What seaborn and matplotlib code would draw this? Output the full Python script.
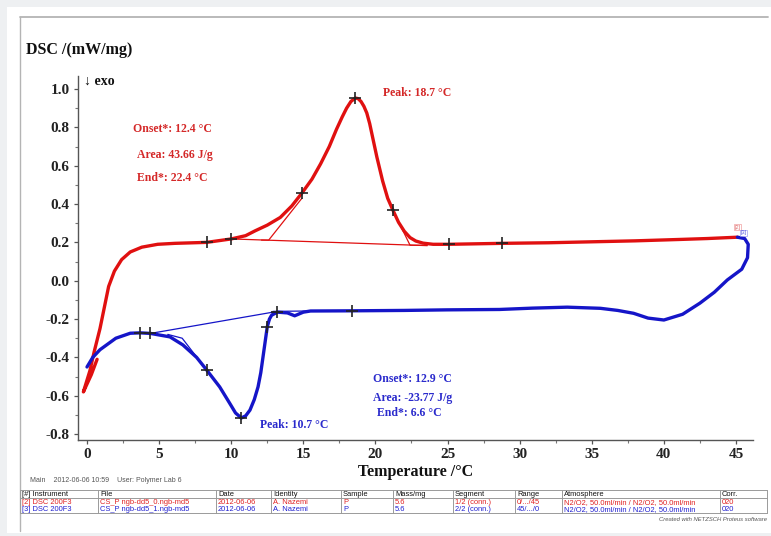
import numpy as np
import pandas as pd
import matplotlib
matplotlib.use("Agg")
import matplotlib.pyplot as plt
import seaborn as sns
from matplotlib.patches import Rectangle
from matplotlib.lines import Line2D
from matplotlib.ticker import MultipleLocator

# ---------------- data ----------------
heat_T = [0.7, 0.3, -0.25, 0.2, 0.5, 0.9, 1.2, 1.5, 1.9, 2.4, 3.0, 3.8, 4.9, 6.1, 8.3, 10.0,
          11.0, 11.65, 12.5, 13.4, 14.2, 14.9, 15.6, 16.2, 16.8, 17.3, 17.7, 18.0, 18.3, 18.6,
          18.8, 19.0, 19.2, 19.4, 19.6, 19.8, 20.1, 20.5, 20.85, 21.2, 21.6, 22.0, 22.4, 22.8,
          23.3, 24.0, 25.1, 28.8, 32.0, 35.0, 38.0, 41.0, 43.0, 45.1]
heat_dsc = [-0.41, -0.49, -0.58, -0.47, -0.37, -0.25, -0.14, -0.03, 0.05, 0.11, 0.15, 0.175,
            0.19, 0.195, 0.20, 0.218, 0.235, 0.26, 0.29, 0.33, 0.39, 0.457, 0.53, 0.61, 0.70,
            0.79, 0.855, 0.90, 0.935, 0.953, 0.95, 0.935, 0.91, 0.875, 0.82, 0.75, 0.645, 0.52,
            0.43, 0.37, 0.305, 0.258, 0.225, 0.207, 0.196, 0.19, 0.19, 0.195, 0.198, 0.203,
            0.208, 0.215, 0.22, 0.227]

cool_T = [45.1, 45.6, 45.85, 45.8, 45.4, 44.4, 43.5, 42.5, 41.3, 40.0, 38.9, 37.9, 36.8, 35.6,
          33.3, 30.9, 28.6, 25.0, 22.0, 18.4, 15.5, 15.0, 14.4, 13.9, 13.2, 12.8, 12.65, 12.5,
          12.35, 12.2, 12.05, 11.86, 11.6, 11.3, 11.0, 10.7, 10.3, 9.9, 9.2, 8.3, 7.6, 6.65,
          5.75, 4.4, 3.7, 3.0, 2.0, 0.9, 0.4, 0.0]
cool_dsc = [0.227, 0.22, 0.19, 0.12, 0.06, 0.004, -0.06, -0.117, -0.175, -0.205, -0.195, -0.17,
            -0.155, -0.144, -0.138, -0.143, -0.15, -0.152, -0.155, -0.157, -0.158, -0.164, -0.183,
            -0.168, -0.164, -0.18, -0.20, -0.24, -0.32, -0.40, -0.48, -0.554, -0.62, -0.675,
            -0.705, -0.716, -0.69, -0.64, -0.554, -0.466, -0.40, -0.335, -0.293, -0.275, -0.272,
            -0.274, -0.30, -0.36, -0.40, -0.45]

heat_marks_T = [8.3, 10.0, 14.9, 18.6, 21.2, 25.1, 28.8]
heat_marks_dsc = [0.20, 0.218, 0.457, 0.953, 0.37, 0.19, 0.195]
cool_marks_T = [3.7, 4.4, 8.3, 10.7, 12.5, 13.2, 18.4]
cool_marks_dsc = [-0.272, -0.275, -0.466, -0.716, -0.24, -0.164, -0.157]

# construction (baseline / tangent) lines
heat_base_T = [10.0, 23.6]
heat_base_dsc = [0.218, 0.183]
heat_tan1_T = [12.1, 12.6, 14.9]
heat_tan1_dsc = [0.212, 0.212, 0.43]
heat_tan2_T = [21.2, 22.4, 23.3]
heat_tan2_dsc = [0.37, 0.185, 0.185]
cool_base_T = [4.4, 13.2]
cool_base_dsc = [-0.275, -0.16]
cool_tan1_T = [5.6, 6.6, 8.3]
cool_tan1_dsc = [-0.28, -0.30, -0.466]
cool_tan2_T = [12.5, 12.9, 15.3]
cool_tan2_dsc = [-0.24, -0.160, -0.158]

x_ticks = [0, 5, 10, 15, 20, 25, 30, 35, 40, 45]
x_tick_labels = [str(v) for v in x_ticks]
y_ticks = [-0.8, -0.6, -0.4, -0.2, 0.0, 0.2, 0.4, 0.6, 0.8, 1.0]
y_tick_labels = ["-0.8", "-0.6", "-0.4", "-0.2", "0.0", "0.2", "0.4", "0.6", "0.8", "1.0"]

red_notes = ["Onset*: 12.4 °C", "Area: 43.66 J/g", "End*: 22.4 °C"]
blue_notes = ["Onset*: 12.9 °C", "Area: -23.77 J/g", "End*: 6.6 °C"]
red_peak = "Peak: 18.7 °C"
blue_peak = "Peak: 10.7 °C"

table_header = ["[#] Instrument", "File", "Date", "Identity", "Sample", "Mass/mg",
                "Segment", "Range", "Atmosphere", "Corr."]
table_row2 = ["[2] DSC 200F3", "CS_P ngb-dd5_0.ngb-md5", "2012-06-06", "A. Nazemi", "P", "5.6",
              "1/2 (conn.)", "0/.../45", "N2/O2, 50.0ml/min / N2/O2, 50.0ml/min", "020"]
table_row3 = ["[3] DSC 200F3", "CS_P ngb-dd5_1.ngb-md5", "2012-06-06", "A. Nazemi", "P", "5.6",
              "2/2 (conn.)", "45/.../0", "N2/O2, 50.0ml/min / N2/O2, 50.0ml/min", "020"]

# ---------------- style ----------------
sns.set_theme(style="white")
plt.rcParams['font.family'] = ['Liberation Serif', 'DejaVu Serif']
plt.rcParams['axes.unicode_minus'] = False

RED = "#e01010"
BLUE = "#1515c8"
RED_T = "#d42828"
BLUE_T = "#2a2acc"

W, H = 771, 536
fig = plt.figure(figsize=(W / 100, H / 100), dpi=100)
fig.patch.set_facecolor('#eef0f2')
fig.add_artist(Rectangle((7 / W, 3 / H), (W - 7) / W, (529 - 3) / H,
                         transform=fig.transFigure, facecolor='white', edgecolor='none', zorder=0))
fig.add_artist(Line2D([20 / W, 768 / W], [1 - 17 / H, 1 - 17 / H], transform=fig.transFigure,
                      color='#b4b4b4', lw=1.3))
fig.add_artist(Line2D([20 / W, 20 / W], [1 - 17 / H, 1 - 531 / H], transform=fig.transFigure,
                      color='#b4b4b4', lw=1.0))

ax = fig.add_axes([78 / W, 1 - 440 / H, (753 - 78) / W, (440 - 76) / H])
ax.set_facecolor('none')

heat_df = pd.DataFrame({"T": heat_T, "DSC": heat_dsc})
cool_df = pd.DataFrame({"T": cool_T, "DSC": cool_dsc})

# construction lines (thin)
for xs, ys, c in [(heat_base_T, heat_base_dsc, RED), (heat_tan1_T, heat_tan1_dsc, RED),
                  (heat_tan2_T, heat_tan2_dsc, RED), (cool_base_T, cool_base_dsc, BLUE),
                  (cool_tan1_T, cool_tan1_dsc, BLUE), (cool_tan2_T, cool_tan2_dsc, BLUE)]:
    ax.plot(xs, ys, color=c, lw=0.9, zorder=2)

sns.lineplot(data=heat_df, x="T", y="DSC", sort=False, estimator=None, color=RED, lw=2.4,
             ax=ax, zorder=3, solid_joinstyle='round', solid_capstyle='round')
sns.lineplot(data=cool_df, x="T", y="DSC", sort=False, estimator=None, color=BLUE, lw=2.4,
             ax=ax, zorder=3, solid_joinstyle='round', solid_capstyle='round')

ax.plot(heat_marks_T, heat_marks_dsc, ls='none', marker='+', ms=8, mew=1.2, color='#222222', zorder=4)
ax.plot(cool_marks_T, cool_marks_dsc, ls='none', marker='+', ms=8, mew=1.2, color='#222222', zorder=4)

ax.set_xlim(-0.624, 46.18)
ax.set_ylim(-0.831, 1.068)
for s in ['top', 'right']:
    ax.spines[s].set_visible(False)
for s in ['left', 'bottom']:
    ax.spines[s].set_color('#555555')
    ax.spines[s].set_linewidth(1.0)

ax.set_xticks(x_ticks, labels=x_tick_labels, fontweight='bold', fontsize=11)
ax.set_yticks(y_ticks, labels=y_tick_labels, fontweight='bold', fontsize=11)
ax.xaxis.set_minor_locator(MultipleLocator(2.5))
ax.yaxis.set_minor_locator(MultipleLocator(0.1))
ax.tick_params(which='major', direction='out', length=3, width=0.9, color='#555555',
               bottom=True, left=True, pad=3, labelcolor='#222222')
ax.tick_params(which='minor', direction='out', length=2, width=0.8, color='#777777',
               bottom=True, left=True)

ax.set_xlabel("Temperature /°C", fontsize=11.5, fontweight='bold', color='#111111', labelpad=2)
ax.set_ylabel("")

fig.text(26 / W, 1 - 50 / H, "DSC /(mW/mg)", fontsize=11.5, fontweight='bold', color='#111111',
         ha='left', va='center')
fig.text(84 / W, 1 - 81 / H, "↓ exo", fontsize=10, fontweight='bold', color='#111111',
         ha='left', va='center', family=['Liberation Serif', 'DejaVu Sans'])

# annotations
red_pos = [(3.19, 0.791), (3.47, 0.656), (3.47, 0.536)]
for (xx, yy), t in zip(red_pos, red_notes):
    ax.text(xx, yy, t, color=RED_T, fontsize=8.5, fontweight='bold', ha='left', va='center')
ax.text(20.53, 0.979, red_peak, color=RED_T, fontsize=8.5, fontweight='bold', ha='left', va='center')
blue_pos = [(19.83, -0.513), (19.83, -0.612), (20.1, -0.69)]
for (xx, yy), t in zip(blue_pos, blue_notes):
    ax.text(xx, yy, t, color=BLUE_T, fontsize=8.5, fontweight='bold', ha='left', va='center')
ax.text(12.0, -0.753, blue_peak, color=BLUE_T, fontsize=8.5, fontweight='bold', ha='left', va='center')

ax.text(45.1, 0.28, "[2]", color='#e07070', fontsize=4, ha='center', va='center',
        family='Liberation Sans',
        bbox=dict(boxstyle='square,pad=0.1', fc='none', ec='#f0a0a0', lw=0.5))
ax.text(45.5, 0.25, "[3]", color='#6060e0', fontsize=4, ha='center', va='center',
        family='Liberation Sans',
        bbox=dict(boxstyle='square,pad=0.1', fc='none', ec='#a0a0f0', lw=0.5))

# footer info line
fig.text(30 / W, 1 - 480 / H, "Main    2012-06-06 10:59    User: Polymer Lab 6", fontsize=5,
         color='#555555', family='Liberation Sans', ha='left', va='center')

# table
col_edges = [20, 98, 216, 271, 341, 393, 453, 515, 562, 720, 767]
line_c = '#9a9a9a'
for yy in [490, 498, 513]:
    fig.add_artist(Line2D([20 / W, 767 / W], [1 - yy / H, 1 - yy / H], transform=fig.transFigure,
                          color=line_c, lw=0.7))
for xx in col_edges:
    fig.add_artist(Line2D([xx / W, xx / W], [1 - 490 / H, 1 - 513 / H], transform=fig.transFigure,
                          color=line_c, lw=0.7))
for row, yy, c in [(table_header, 494.2, '#111111'), (table_row2, 502.3, '#e02020'),
                   (table_row3, 509.2, '#2020d0')]:
    for x0, t in zip(col_edges[:-1], row):
        fig.text((x0 + 2) / W, 1 - yy / H, t, fontsize=5.4, color=c, family='Liberation Sans',
                 ha='left', va='center')
fig.text(767 / W, 1 - 519.5 / H, "Created with NETZSCH Proteus software", fontsize=4.2,
         style='italic', color='#555555', family='Liberation Sans', ha='right', va='center')

fig.savefig("out.png", dpi=100, facecolor=fig.get_facecolor())
